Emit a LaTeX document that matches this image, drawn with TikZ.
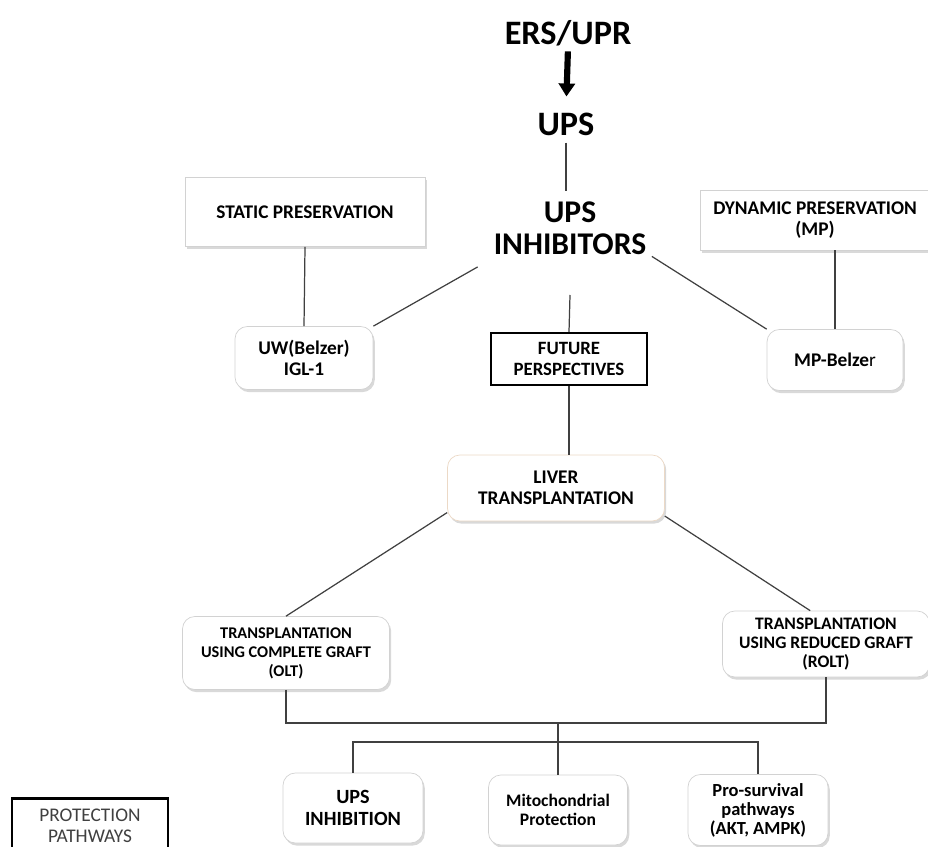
\documentclass[tikz,border=0pt]{standalone}
\usepackage{fontspec}
\setmainfont{Carlito}
\usetikzlibrary{positioning, shadows, arrows.meta}
\tikzset{
  title/.style={font=\bfseries\fontsize{19.5}{18}\selectfont, align=center, inner sep=1pt},
  plainbox/.style={draw=gray!35, fill=white, align=center, inner sep=0pt,
    font=\bfseries\fontsize{11}{12}\selectfont,
    drop shadow={opacity=0.3, shadow xshift=1pt, shadow yshift=-1.5pt}},
  roundbox/.style={plainbox, rounded corners=7pt, font=\bfseries\fontsize{11}{12}\selectfont},
  thickbox/.style={draw=black, line width=1.4pt, fill=white, align=center, inner sep=0pt},
  link/.style={draw=black!75, line width=0.7pt}
}

\begin{document}
\begin{tikzpicture}[x=0.02cm, y=-0.02cm]
  \useasboundingbox (0,0) rectangle (928,847);
  \clip (0,0) rectangle (928,847);

  % Top of the cascade
  \node[title] (ers) at (568,33) {ERS/UPR};
  \node[title] (ups) at (566,124) {UPS};
  \node[title, font=\bfseries\fontsize{18}{18}\selectfont] (inh) at (570,228) {UPS\\INHIBITORS};
  \draw[line width=3.5pt, -{Triangle[length=0.26cm, width=0.32cm]}, shorten <=2pt, shorten >=8pt] (ers.south) -- (ups.north);
  \draw[link, shorten <=3pt, shorten >=5pt] (ups.south) -- (ups.south |- inh.north);

  % Preservation methods
  \node[plainbox, minimum width=4.8cm, minimum height=1.38cm] (static) at (305,212) {STATIC PRESERVATION};
  \node[plainbox, minimum width=4.6cm, minimum height=1.2cm] (dynamic) at (815,220) {DYNAMIC PRESERVATION\\(MP)};
  \node[roundbox, minimum width=2.76cm, minimum height=1.26cm] (uw) at (304,358) {UW(Belzer)\\IGL-1};
  \node[roundbox, minimum width=2.72cm, minimum height=1.22cm] (mpb) at (835,360) {MP-Belze\textmd{r}};
  \node[thickbox, minimum width=3.12cm, minimum height=1.04cm, font=\bfseries\fontsize{10.7}{11.5}\selectfont] (future) at (569,359) {FUTURE\\PERSPECTIVES};
  \coordinate (inhb) at (570,295);

  \draw[link] (static.south) -- (uw.north);
  \draw[link] (mpb.north) -- (mpb.north |- dynamic.south);
  \draw[link] ([xshift=-8pt, yshift=-6pt]inh.south west) -- (uw.north east);
  \draw[link] ([xshift=2pt]inh.south east) -- (mpb.north west);
  \draw[link] (inhb) -- (future.north);

  % Transplantation
  \node[roundbox, draw=brown!30, minimum width=4.34cm, minimum height=1.32cm] (liver) at (556,488) {LIVER\\TRANSPLANTATION};
  \node[roundbox, font=\bfseries\fontsize{9.3}{10.8}\selectfont, minimum width=4.14cm, minimum height=1.46cm] (olt) at (286,653) {TRANSPLANTATION\\USING COMPLETE GRAFT\\(OLT)};
  \node[roundbox, font=\bfseries\fontsize{10}{11}\selectfont, minimum width=4.14cm, minimum height=1.32cm] (rolt) at (826,644) {TRANSPLANTATION\\USING REDUCED GRAFT\\(ROLT)};

  \draw[link] (future.south) -- (future.south |- liver.north);
  \draw[link] ([yshift=5pt]liver.south west) -- (olt.north);
  \draw[link] ([yshift=3pt]liver.south east) -- ([xshift=-9pt]rolt.north);

  % Protection pathways
  \node[roundbox, font=\bfseries\fontsize{11.5}{12.5}\selectfont, minimum width=2.8cm, minimum height=1.4cm] (upsinh) at (353,808) {UPS\\INHIBITION};
  \node[roundbox, font=\bfseries\fontsize{10}{10.5}\selectfont, minimum width=2.78cm, minimum height=1.4cm] (mito) at (558,810) {Mitochondrial\\Protection};
  \node[roundbox, font=\bfseries\fontsize{10.5}{10.8}\selectfont, minimum width=2.8cm, minimum height=1.42cm] (pro) at (758,810) {Pro-survival\\pathways\\(AKT, AMPK)};
  \node[thickbox, font=\fontsize{11}{12}\selectfont, text=black!75, minimum width=3.12cm, minimum height=1.1cm] (prot) at (90,826) {PROTECTION\\PATHWAYS};

  \coordinate (j1) at (558,723);
  \coordinate (j2) at (558,742);
  \draw[link] (olt.south) |- (j1) -| (rolt.south);
  \draw[link] (j1) -- (mito.north);
  \draw[link] (upsinh.north) |- (j2) -| (pro.north);
\end{tikzpicture}
\end{document}
